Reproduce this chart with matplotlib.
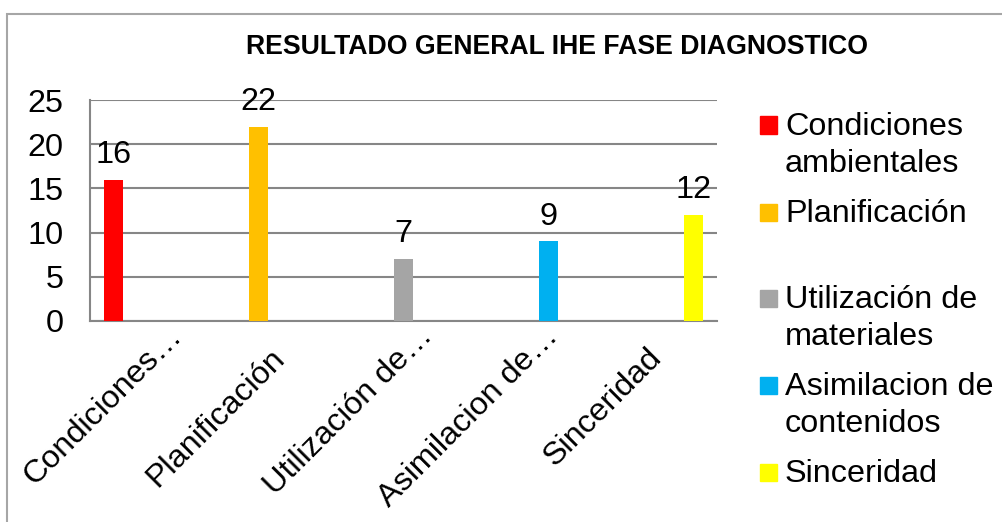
import matplotlib
matplotlib.use('Agg')
import matplotlib.pyplot as plt
from matplotlib.patches import Rectangle

# datos
categorias = ['Condiciones ambientales', 'Planificación', 'Utilización de materiales',
              'Asimilacion de contenidos', 'Sinceridad']
etiquetas_x = ['Condiciones…', 'Planificación', 'Utilización de…', 'Asimilacion de…', 'Sinceridad']
valores = [16, 22, 7, 9, 12]
colores = ['#FF0000', '#FFC000', '#A5A5A5', '#00B0F0', '#FFFF00']
leyenda = ['Condiciones\nambientales', 'Planificación', 'Utilización de\nmateriales',
           'Asimilacion de\ncontenidos', 'Sinceridad']
titulo = 'RESULTADO GENERAL IHE FASE DIAGNOSTICO'
marcas_y = [0, 5, 10, 15, 20, 25]

plt.rcParams['font.family'] = ['Liberation Sans', 'DejaVu Sans']
fs = 23.3

W, H = 1003, 522
fig = plt.figure(figsize=(W / 100, H / 100), dpi=100)
ax = fig.add_axes([90 / W, 1 - 321 / H, 627 / W, 221 / H])

n = len(valores)
ancho = 0.156
for i, (v, c) in enumerate(zip(valores, colores)):
    # cada serie ocupa su hueco dentro del grupo (como en Excel)
    x = i + (i - (n - 1) / 2) * ancho
    ax.bar(x, v, width=ancho, color=c, zorder=3)
    ax.annotate(str(v), (x, v), xytext=(0, 12), textcoords='offset points',
                ha='center', va='baseline', fontsize=fs)

ax.set_xlim(-0.5, n - 0.5)
ax.set_ylim(0, 25)
ax.set_yticks(marcas_y)
ax.set_xticks(range(n))
ax.set_xticklabels([])
# etiquetas del eje x giradas; Excel deja los "…" fuera del anclaje
for i, lab in enumerate(etiquetas_x):
    extra = 22 if lab.endswith('…') else 0
    ax.annotate(lab, (i, 0), xycoords=('data', 'axes fraction'),
                xytext=(13 + extra, -22 + extra), textcoords='offset pixels',
                rotation=45, ha='right', va='top', fontsize=fs, annotation_clip=False)
ax.tick_params(axis='y', length=0, pad=19, labelsize=fs)
ax.tick_params(axis='x', length=0)
ax.yaxis.grid(True, color='#868686', lw=1.5, zorder=0)
for s in ['top', 'right']:
    ax.spines[s].set_visible(False)
for s in ['left', 'bottom']:
    ax.spines[s].set_color('#868686')
    ax.spines[s].set_linewidth(1.5)

fig.text(0.555, 1 - 47 / H, titulo, ha='center', va='center', fontsize=19.2, fontweight='bold')

# leyenda a mano (el espaciado de Excel no es regular)
pos_ley = [125, 212, 298, 385, 472]
for lab, c, yy in zip(leyenda, colores, pos_ley):
    fig.add_artist(Rectangle((760 / W, 1 - (yy + 8.5) / H), 17 / W, 17 / H,
                             transform=fig.transFigure, color=c))
    for k, linea in enumerate(lab.split('\n')):
        fig.text(785 / W, 1 - (yy + 2 + k * 37) / H, linea, ha='left', va='center', fontsize=fs)

# borde del grafico
fig.add_artist(Rectangle((7 / W, -0.1), 1.2, 1.1 - 14 / H, transform=fig.transFigure,
                         fill=False, edgecolor='#a6a6a6', lw=1.5))

fig.savefig('out.png', dpi=100)
